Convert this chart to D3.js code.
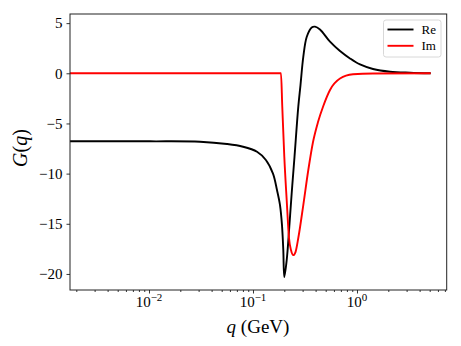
<!DOCTYPE html>
<html><head><meta charset="utf-8">
<script src="https://cdn.jsdelivr.net/npm/d3@7"></script>
<style>
body{margin:0;background:#fff;}
text{font-family:"Liberation Serif","DejaVu Serif",serif;}
</style></head>
<body><svg id="c" width="461" height="346"></svg>
<script>
// Data
const reQ = [0.00174,0.01022,0.03094,0.05623,0.08014,0.1093,0.1330,0.1557,0.1701,0.1818,0.1900,0.1956,0.2000,0.2109,0.2234,0.2355,0.2506,0.2726,0.2862,0.3045,0.3283,0.3667,0.3947,0.4406,0.5500,0.6864,0.8563,1.069,1.425,2.076,3.233,5.113];
const reG = [-6.78,-6.78,-6.82,-7.05,-7.32,-7.82,-8.64,-10.0,-11.64,-13.13,-15.13,-17.62,-20.31,-18.62,-15.29,-11.96,-8.34,-3.33,-1.17,1.63,3.62,4.57,4.65,4.37,3.15,2.22,1.48,0.88,0.43,0.16,0.06,0.01];
const imQ = [0.00174,0.01,0.1,0.17,0.1858,0.1912,0.2000,0.2109,0.2219,0.2319,0.2441,0.2563,0.2726,0.3045,0.3402,0.3776,0.4217,0.4742,0.5500,0.6864,0.9153,1.425,5.113];
const imG = [0,0,0,0,0,-3.33,-8.31,-12.66,-16.42,-17.62,-18.12,-17.82,-16.42,-13.13,-9.64,-6.85,-4.86,-3.26,-1.66,-0.52,-0.10,-0.02,0];
const xMajor = [-2,-1,0];
const yTicks = [5,0,-5,-10,-15,-20];
const series = [
  {name:"Re", q:reQ, g:reG, color:"#000000", curve:d3.curveCatmullRom.alpha(0.5)},
  {name:"Im", q:imQ, g:imG, color:"#ff0000", curve:d3.curveMonotoneX}
];

const svg = d3.select("#c");
const L=70,R=446.7,T=14,B=290;
const x = d3.scaleLog().domain([Math.pow(10,-2.7596),Math.pow(10,0.8625)]).range([L,R]);
const y = d3.scaleLinear().domain([-21.6,5.91]).range([B,T]);

// minor ticks
const minor=[];
for(let e=-3;e<=0;e++) for(let k=2;k<=9;k++){const v=k*Math.pow(10,e); if(v>=x.domain()[0]&&v<=x.domain()[1]) minor.push(v);}

const gx = svg.append("g").attr("transform",`translate(0,${B})`);
gx.call(d3.axisBottom(x).tickValues(xMajor.map(e=>Math.pow(10,e))).tickSize(3.5).tickFormat(""));
gx.append("g").call(d3.axisBottom(x).tickValues(minor).tickSize(2).tickFormat(""));
gx.selectAll(".domain").remove();
gx.selectAll("line").attr("stroke","#000").attr("stroke-width",0.8);

xMajor.forEach(e=>{
  const t = svg.append("text").attr("x",x(Math.pow(10,e))).attr("y",307).attr("text-anchor","middle").attr("font-size",15).attr("fill","#000");
  t.append("tspan").text("10");
  t.append("tspan").attr("dy",-6).attr("font-size",11).text(e<0?"\u2212"+(-e):String(e));
});

const gy = svg.append("g").attr("transform",`translate(${L},0)`);
gy.call(d3.axisLeft(y).tickValues(yTicks).tickSize(3.5).tickPadding(4).tickFormat(d=>d<0?"\u2212"+(-d):String(d)));
gy.selectAll(".domain").remove();
gy.selectAll("line").attr("stroke","#000").attr("stroke-width",0.8);
gy.selectAll("text").attr("font-size",15).attr("font-family","'Liberation Serif',serif").attr("fill","#000");

series.forEach(s=>{
  const line = d3.line().x(d=>x(d[0])).y(d=>y(d[1])).curve(s.curve);
  svg.append("path").datum(s.q.map((q,i)=>[q,s.g[i]])).attr("d",line)
    .attr("fill","none").attr("stroke",s.color).attr("stroke-width",1.9).attr("stroke-linejoin","round");
});

// frame
svg.append("rect").attr("x",L).attr("y",T).attr("width",R-L).attr("height",B-T).attr("fill","none").attr("stroke","#222").attr("stroke-width",1);

// legend
const lg = svg.append("g");
lg.append("rect").attr("x",383.5).attr("y",20).attr("width",57.5).attr("height",37).attr("rx",2.5).attr("fill","#fff").attr("fill-opacity",0.8).attr("stroke","#d8d8d8").attr("stroke-width",1);
series.forEach((s,i)=>{
  const yy = 29.5+i*16.3;
  lg.append("line").attr("x1",387.5).attr("x2",413.5).attr("y1",yy).attr("y2",yy).attr("stroke",s.color).attr("stroke-width",1.9);
  lg.append("text").attr("x",421.5).attr("y",yy+4.5).attr("font-size",13).attr("fill","#000").text(s.name);
});

// axis labels
const xl = svg.append("text").attr("x",258).attr("y",333).attr("text-anchor","middle").attr("font-size",19).attr("fill","#000");
xl.append("tspan").attr("font-style","italic").text("q");
xl.append("tspan").text(" (GeV)");
const yl = svg.append("text").attr("transform","translate(27,148) rotate(-90)").attr("text-anchor","middle").attr("font-size",20).attr("fill","#000");
yl.append("tspan").attr("font-style","italic").text("G");
yl.append("tspan").text("(");
yl.append("tspan").attr("font-style","italic").text("q");
yl.append("tspan").text(")");
</script></body></html>
